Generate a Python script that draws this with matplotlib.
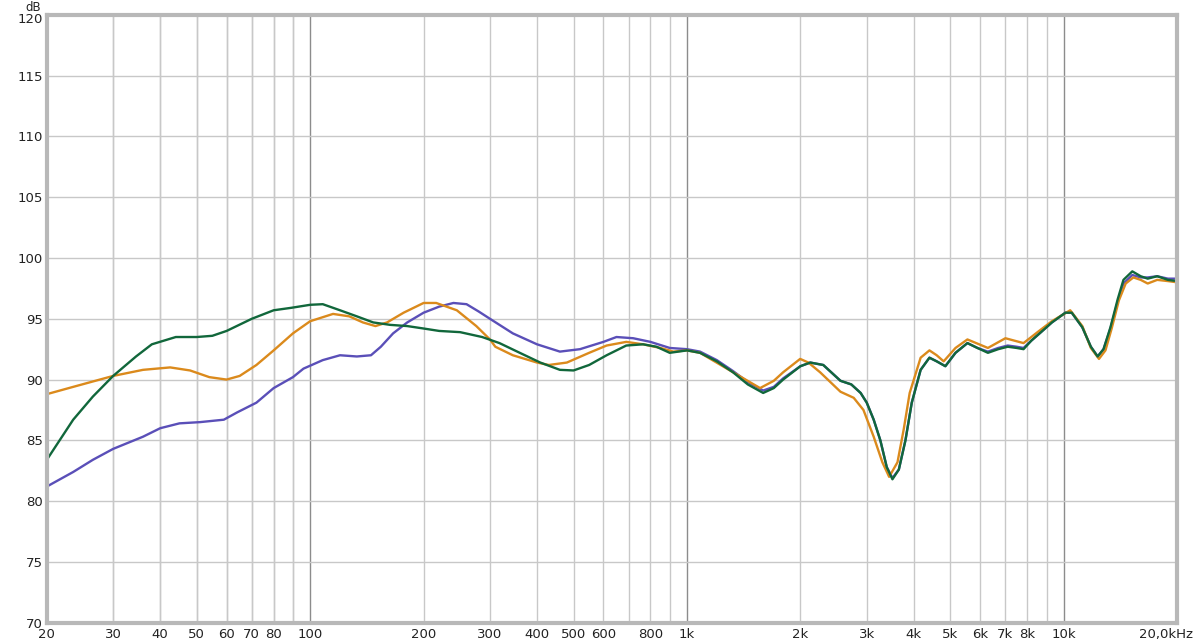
import matplotlib
matplotlib.use("Agg")
import matplotlib.pyplot as plt
from matplotlib.transforms import ScaledTranslation

# frequency response readings (Hz, dB)
green_f = [20, 23.5, 26.5, 30, 34.5, 38, 44, 50, 55, 60, 70, 80, 89, 100, 108, 120, 133, 147, 163, 181, 200, 220,
           250, 286, 318, 360, 408, 460, 500, 550, 612, 690, 765, 830, 900, 1000, 1083, 1200, 1325, 1450, 1593, 1700,
           1800, 2000, 2124, 2300, 2555, 2730, 2890, 3000, 3130, 3260, 3390, 3510, 3650, 3800, 3950, 4170, 4400,
           4600, 4850, 5160, 5550, 5900, 6290, 6700, 7100, 7500, 7820, 8200, 8700, 9300, 10100, 10500, 11200,
           11800, 12300, 12750, 13300, 13900, 14400, 15200, 16000, 16700, 17700, 18900, 20000]
green_db = [83.4, 86.7, 88.6, 90.3, 91.9, 92.9, 93.5, 93.5, 93.6, 94.0, 95.0, 95.7, 95.9, 96.15, 96.2, 95.7, 95.2, 94.7, 94.5, 94.4, 94.2, 94.0,
            93.9, 93.5, 93.0, 92.2, 91.4, 90.8, 90.75, 91.2, 92.0, 92.8, 92.9, 92.7, 92.2, 92.4, 92.2, 91.5, 90.6, 89.6, 88.9, 89.3,
            90.0, 91.1, 91.4, 91.2, 89.9, 89.6, 88.9, 88.1, 86.7, 85.0, 82.8, 81.8, 82.6, 85.0, 88.1, 90.8, 91.8,
            91.5, 91.1, 92.2, 93.0, 92.6, 92.2, 92.5, 92.7, 92.6, 92.5, 93.2, 93.9, 94.7, 95.5, 95.5, 94.3,
            92.7, 91.9, 92.5, 94.3, 96.6, 98.2, 98.9, 98.5, 98.3, 98.5, 98.2, 98.1]

orange_f = [20, 23.5, 30, 36, 42.5, 48, 54, 60, 65, 72, 80, 90, 100, 115, 127, 138, 149, 160, 177, 200, 216,
            245, 276, 300, 310, 345, 400, 430, 480, 550, 612, 690, 765, 850, 920, 1000, 1083, 1325, 1563, 1700,
            1800, 1997, 2100, 2256, 2555, 2770, 2940, 3130, 3300, 3440, 3620, 3760, 3900, 4170, 4400, 4600, 4800,
            5160, 5550, 6290, 7000, 7820, 8600, 9300, 10400, 11200, 11800, 12400, 12900, 13400, 14000, 14600,
            15300, 16000, 16700, 17700, 18900, 20000]
orange_db = [88.8, 89.4, 90.3, 90.8, 91.0, 90.75, 90.2, 90.0, 90.3, 91.2, 92.4, 93.8, 94.8, 95.4, 95.2, 94.7, 94.4, 94.7, 95.5, 96.3, 96.3,
             95.7, 94.4, 93.3, 92.7, 92.0, 91.4, 91.2, 91.4, 92.2, 92.8, 93.1, 92.9, 92.6, 92.3, 92.4, 92.2, 90.6, 89.3, 89.9,
             90.6, 91.7, 91.4, 90.6, 89.0, 88.5, 87.5, 85.3, 83.2, 82.0, 83.2, 85.9, 88.9, 91.8, 92.4, 92.0, 91.5,
             92.6, 93.3, 92.6, 93.4, 93.0, 94.0, 94.8, 95.7, 94.4, 92.6, 91.7, 92.4, 94.2, 96.5, 97.9,
             98.4, 98.2, 97.9, 98.2, 98.1, 98.0]

blue_f = [20, 23.5, 26.5, 30, 36, 40, 45, 51, 59, 64, 72, 80, 90, 96, 108, 120, 133, 145, 154, 166, 181, 200, 220,
          240, 260, 280, 300, 345, 400, 460, 520, 600, 650, 720, 800, 900, 1000, 1083, 1200, 1325, 1450, 1593, 1700,
          1800, 2000, 2124, 2300, 2555, 2730, 2890, 3000, 3130, 3260, 3390, 3510, 3650, 3800, 3950, 4170, 4400,
          4600, 4850, 5160, 5550, 5900, 6290, 6700, 7100, 7500, 7820, 8200, 8700, 9300, 10100, 10500, 11200,
          11800, 12300, 12750, 13300, 13900, 14400, 15200, 16000, 16700, 17700, 18900, 20000]
blue_db = [81.2, 82.4, 83.4, 84.3, 85.3, 86.0, 86.4, 86.5, 86.7, 87.3, 88.1, 89.3, 90.2, 90.9, 91.6, 92.0, 91.9, 92.0, 92.7, 93.8, 94.7, 95.5, 96.0,
           96.3, 96.2, 95.6, 95.0, 93.8, 92.9, 92.3, 92.5, 93.1, 93.5, 93.4, 93.1, 92.6, 92.5, 92.3, 91.6, 90.7, 89.8, 89.1, 89.4,
           90.1, 91.1, 91.4, 91.2, 89.9, 89.6, 88.9, 88.1, 86.7, 85.0, 82.8, 81.9, 82.6, 85.0, 88.1, 90.8, 91.8,
           91.5, 91.1, 92.2, 93.0, 92.6, 92.3, 92.6, 92.8, 92.7, 92.6, 93.2, 93.9, 94.7, 95.5, 95.5, 94.3,
           92.7, 91.9, 92.5, 94.2, 96.4, 97.9, 98.6, 98.4, 98.4, 98.5, 98.3, 98.3]

x_ticks = [20, 30, 40, 50, 60, 70, 80, 100, 200, 300, 400, 500, 600, 800, 1000,
           2000, 3000, 4000, 5000, 6000, 7000, 8000, 10000, 20000]
x_labels = ["20", "30", "40", "50", "60", "70", "80", "100", "200", "300", "400", "500", "600", "800", "1k",
            "2k", "3k", "4k", "5k", "6k", "7k", "8k", "10k", "20,0kHz"]
y_ticks = [70, 75, 80, 85, 90, 95, 100, 105, 110, 115, 120]

fig = plt.figure(figsize=(12, 6.44), dpi=100)
ax = fig.add_axes([0.039, 0.033, 0.942, 0.944])

minor_grid = [f * m for m in (10, 100, 1000) for f in range(2, 10)] + [30, 40, 50, 60, 70, 80, 90]
for f in minor_grid:
    if 20 < f < 20000:
        ax.axvline(f, color="#c8c8c8", lw=1, zorder=0)
for f in (100, 1000, 10000):
    ax.axvline(f, color="#8c8c8c", lw=1, zorder=0)
for y in y_ticks:
    ax.axhline(y, color="#c8c8c8", lw=1, zorder=0)

ax.plot(blue_f, blue_db, color="#5a4fb8", lw=1.7, solid_joinstyle="round")
ax.plot(orange_f, orange_db, color="#db8a1c", lw=1.7, solid_joinstyle="round")
ax.plot(green_f, green_db, color="#11673b", lw=1.7, solid_joinstyle="round")

ax.set_xscale("log")
ax.set_xlim(20, 20000)
ax.set_ylim(70, 120)
ax.set_xticks(x_ticks)
ax.set_xticklabels(x_labels)
ax.xaxis.set_minor_locator(matplotlib.ticker.NullLocator())
ax.set_yticks(y_ticks)
ax.tick_params(length=0, labelsize=9.5, colors="#222222", pad=4)
ax.tick_params(axis="y", pad=3)

# keep the last label inside the figure
last = ax.get_xticklabels()[-1]
last.set_transform(last.get_transform() + ScaledTranslation(-8 / 72, 0, fig.dpi_scale_trans))
# nudge the top y label down a little, as in the original
top = ax.get_yticklabels()[-1]
top.set_transform(top.get_transform() + ScaledTranslation(0, -2 / 72, fig.dpi_scale_trans))

for s in ax.spines.values():
    s.set_color("#b8b8b8")
    s.set_linewidth(3)

fig.text(0.034, 0.999, "dB", ha="right", va="top", fontsize=8.5, color="#222222")

fig.savefig("out.png", dpi=100)
